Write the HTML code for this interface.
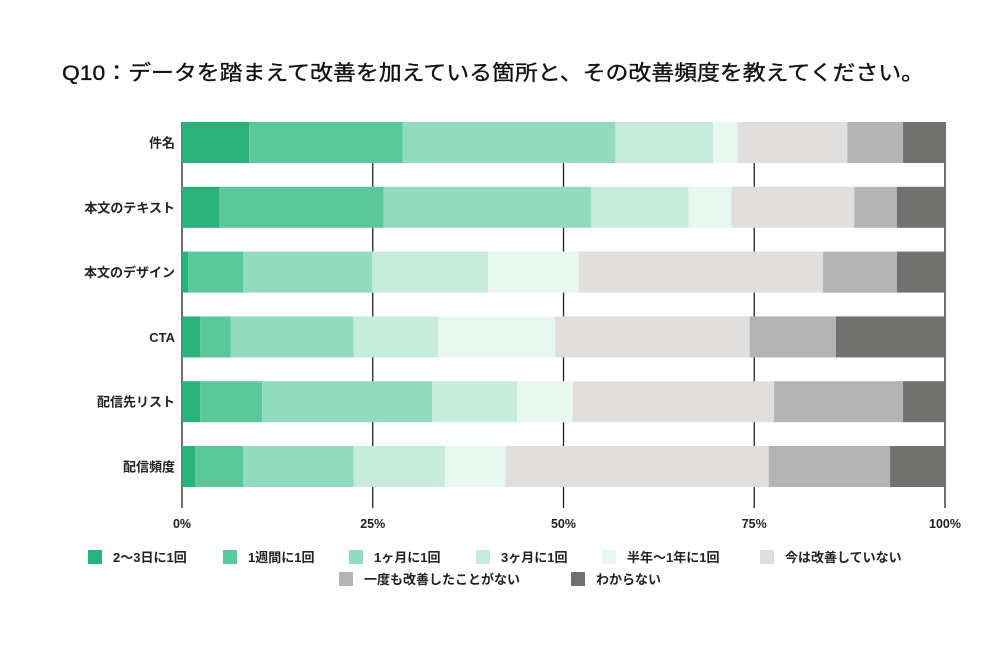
<!DOCTYPE html>
<html><head><meta charset="utf-8">
<style>
body{margin:0;background:#fff;width:1000px;height:643px;overflow:hidden;font-family:"Liberation Sans","Noto Sans CJK JP",sans-serif;}
svg text{font-family:"Liberation Sans","Noto Sans CJK JP",sans-serif;}
</style></head>
<body>
<svg id="chart" width="1000" height="643">
<text x="62" y="80" font-size="21" fill="#111" stroke="#111" stroke-width="0.35" textLength="862" lengthAdjust="spacingAndGlyphs">Q10：データを踏まえて改善を加えている箇所と、その改善頻度を教えてください。</text>
<g id="grid"></g><g id="bars"></g><g id="labels"></g><g id="legend"></g>
</svg>
<script>
const categories=["件名","本文のテキスト","本文のデザイン","CTA","配信先リスト","配信頻度"];
const seriesNames=["2〜3日に1回","1週間に1回","1ヶ月に1回","3ヶ月に1回","半年〜1年に1回","今は改善していない","一度も改善したことがない","わからない"];
const s1=[8.8,4.9,0.8,2.4,2.4,1.7];
const s2=[20.1,21.5,7.2,4.0,8.1,6.3];
const s3=[27.9,27.2,16.9,16.1,22.3,14.5];
const s4=[12.8,12.8,15.2,11.1,11.1,12.0];
const s5=[3.2,5.6,11.9,15.3,7.3,7.9];
const s6=[14.4,16.1,32.0,25.5,26.4,34.5];
const s7=[7.3,5.6,9.7,11.3,16.9,15.9];
const s8=[5.5,6.3,6.3,14.3,5.5,7.2];
const ticks=[0,25,50,75,100];
const tickLabels=["0%","25%","50%","75%","100%"];
const series=[s1,s2,s3,s4,s5,s6,s7,s8];
const colors=["#2ab27b","#5bc89c","#93dbbf","#c7ebdc","#e9f7f1","#e0dfde","#b4b4b4","#717270"];
const NS="http://www.w3.org/2000/svg";
const x=v=>182+v*7.63;
const y=i=>122+i*64.8;
const BH=41;
function mk(tag,attrs,parent){const e=document.createElementNS(NS,tag);for(const k in attrs)e.setAttribute(k,attrs[k]);parent.appendChild(e);return e;}
const grid=document.getElementById('grid'),bars=document.getElementById('bars'),labels=document.getElementById('labels'),legend=document.getElementById('legend');
ticks.forEach((t,i)=>{
 const l=mk('line',{x1:x(t),x2:x(t),y1:122,y2:508,stroke:'#222','stroke-width':1.3},grid);
 
 
 const tx=mk('text',{x:x(t),y:528,'text-anchor':'middle','font-size':12.5,'font-weight':'bold',fill:'#222'},labels);
 tx.textContent=tickLabels[i];
 
 
});
categories.forEach((c,i)=>{
 let acc=0;
 series.forEach((s,j)=>{
  const r=mk('rect',{x:x(acc),y:y(i),width:s[i]*7.63,height:BH,fill:colors[j]},bars);
  
  
  acc+=s[i];
 });
 const t=mk('text',{x:175,y:y(i)+BH/2+5,'text-anchor':'end','font-size':13,'font-weight':'bold',fill:'#222'},labels);
 t.textContent=c;
 
 
});
const legPos=[[88,557],[223,557],[349,557],[476,557],[602,557],[760,557],[339,579],[571,579]];
seriesNames.forEach((n,j)=>{
 const [lx,ly]=legPos[j];
 const r=mk('rect',{x:lx,y:ly-7,width:14,height:14,fill:colors[j]},legend);
 
 
 const t=mk('text',{x:lx+25,y:ly+5,'font-size':13,'font-weight':'bold',fill:'#222'},legend);
 t.textContent=n;
 
 
});
</script>
</body></html>
